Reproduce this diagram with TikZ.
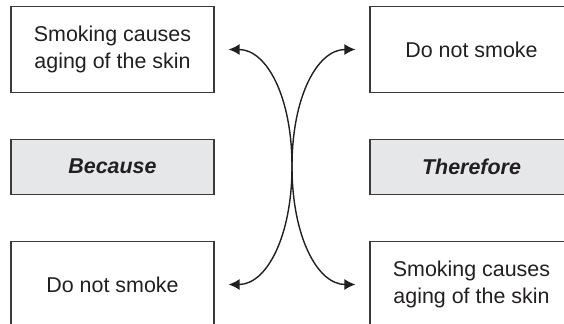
\documentclass[tikz,border=0pt]{standalone}
\usepackage{fontspec}
\setmainfont{Liberation Sans}
\usepackage{xcolor}
\usetikzlibrary{arrows}
\usetikzlibrary{arrows.meta}

\definecolor{inkgray}{HTML}{231F20}
\definecolor{framegray}{HTML}{3A3A3A}
\definecolor{tabgray}{HTML}{E6E7E8}

\begin{document}
\begin{tikzpicture}[x=0.02cm,y=-0.02cm,
{Latex[length=2.2mm,width=2.2mm]}-{Latex[length=2.2mm,width=2.2mm]},>=Latex]
     \tikzstyle{box}=[rectangle,draw=framegray,line width=0.7pt,minimum width=4.06cm,
        minimum height=1.72cm,inner sep=0pt,align=center,text=inkgray,
        font=\fontsize{12.2pt}{15.2pt}\selectfont]
     \tikzstyle{tab}=[box,fill=tabgray,minimum height=1.1cm,
        font=\fontsize{12.2pt}{15.2pt}\selectfont\bfseries\itshape]
     \tikzstyle{edge} = [draw,line width=0.8pt,inkgray]
     \clip (0,0) rectangle (564,324);
     \node[box] (cause) at (112.5, 49.5) {Smoking causes\\aging of the skin};
     \node[tab] (because) at (112.5, 166.7) {Because};
     \node[box] (rule) at (112.5, 284.5) {Do not smoke};
     \node[box] (advice) at (471.5, 49.5) {Do not smoke};
     \node[tab] (therefore) at (471.5, 166.7) {Therefore};
     \node[box] (effect) at (471.5, 284.5) {Smoking causes\\aging of the skin};
     \coordinate (cross) at (292, 166.5);

     \draw[edge] ([xshift=0.28cm]cause.east) .. controls +(38,0) and +(0,-70) .. (cross)
        .. controls +(0,70) and +(-38,0) .. ([xshift=-0.28cm]effect.west);
     \draw[edge] ([xshift=-0.28cm]advice.west) .. controls +(-38,0) and +(0,-70) .. (cross)
        .. controls +(0,70) and +(38,0) .. ([xshift=0.28cm]rule.east);
 \end{tikzpicture}
\end{document}
